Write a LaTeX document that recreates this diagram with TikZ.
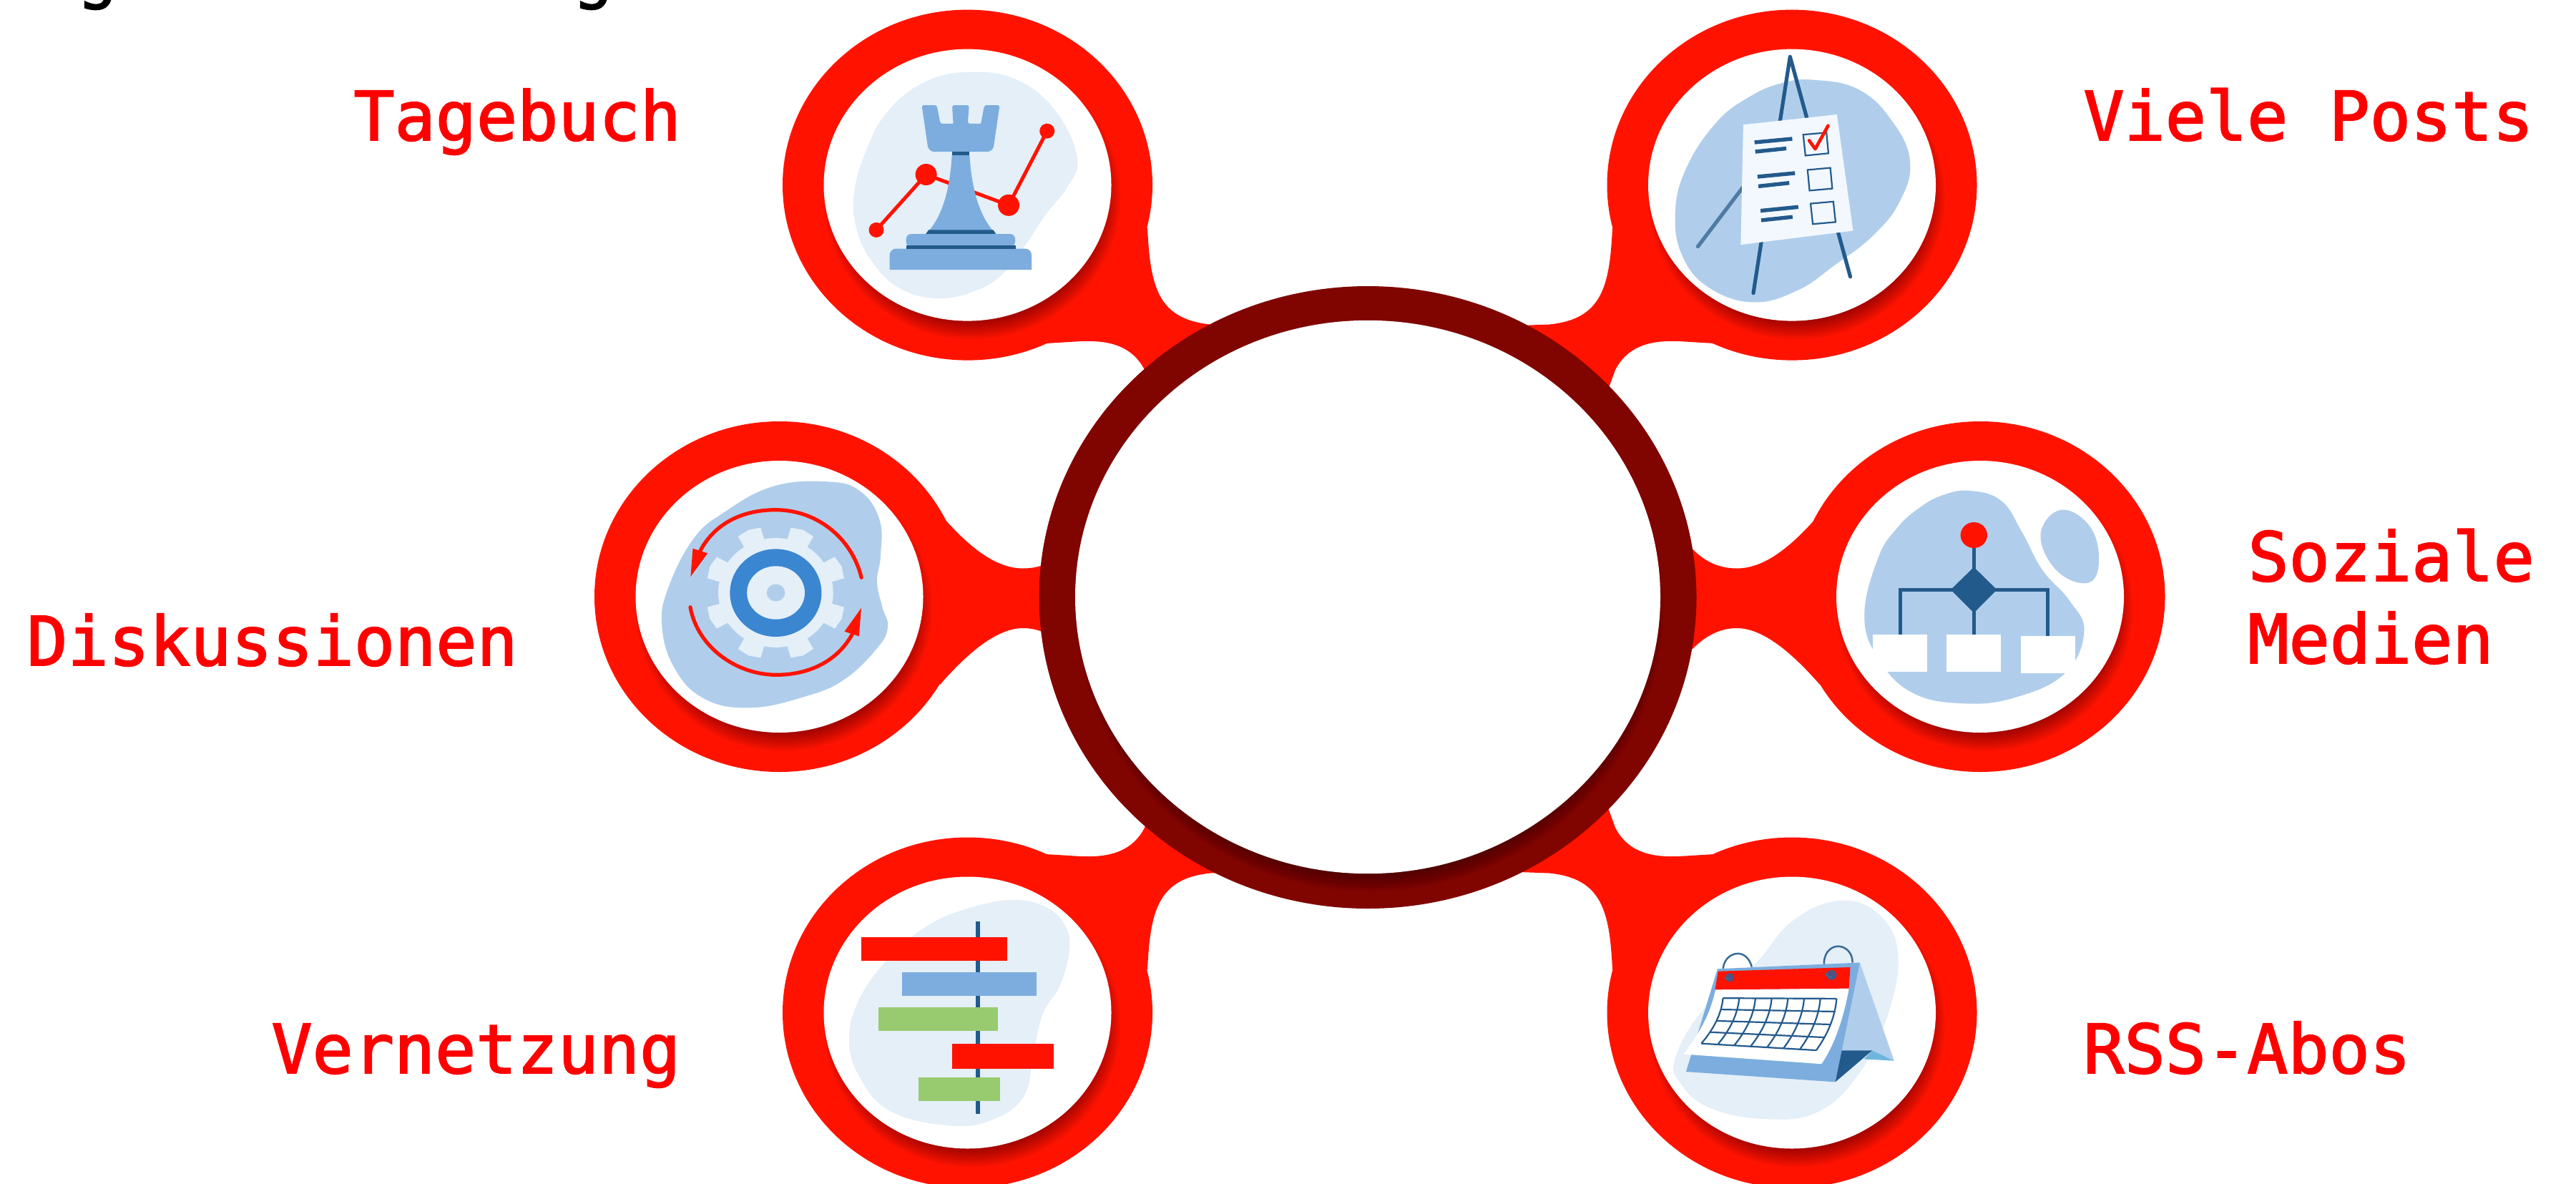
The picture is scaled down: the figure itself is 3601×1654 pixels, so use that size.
\documentclass[tikz,border=0pt]{standalone}
\usepackage{fontspec}
\newfontfamily\labfont{DejaVu Sans Mono}[FakeBold=2]
\newfontfamily\ttlfont{DejaVu Sans Mono}[FakeBold=2]
\definecolor{ringred}{HTML}{FF1300}
\definecolor{labred}{HTML}{FF0000}
\definecolor{hubred}{HTML}{800500}
\definecolor{blobl}{HTML}{E4EFF8}
\definecolor{blobm}{HTML}{B0CEEB}
\definecolor{midblue}{HTML}{7CADDE}
\definecolor{darkblue}{HTML}{235A8C}
\definecolor{vivid}{HTML}{3A86D0}
\definecolor{ganttgreen}{HTML}{98CB70}
\definecolor{cyanb}{HTML}{6FB5DE}
\definecolor{paperc}{HTML}{F2F8FE}
\definecolor{holec}{HTML}{4D5283}
\tikzset{
  lab/.style={anchor=base west,inner sep=0pt,text=labred,font=\labfont\fontsize{47.5}{57.5}\selectfont,align=left},
  ttl/.style={anchor=base west,inner sep=0pt,text=black,font=\ttlfont\fontsize{47.5}{57.5}\selectfont},
  smoothblob/.style={smooth cycle,tension=.7},
  px5/.style={line width=2.6pt},
  thinl/.style={line width=1.1pt,draw=darkblue},
}
% drop shadow under a white disc: offsets #5,#6
\newcommand{\softshadow}[6]{%
  \foreach \k in {0,...,13}{%
    \fill[black,opacity=.026] (#1+#5,#2+#6) ellipse [x radius=#3-14+1.85*\k, y radius=#4-14+1.85*\k];
  }%
}
\newcommand{\lobe}[2]{%
  \fill[ringred] (#1,#2) ellipse [x radius=258.5, y radius=245];
}
\newcommand{\disc}[2]{%
  \softshadow{#1}{#2}{198}{190}{6}{16}
  \fill[white] (#1,#2) ellipse [x radius=201, y radius=190];
}
\newcommand{\cornerconn}{%
  \fill[ringred] (1604,319) .. controls (1608,400) and (1618,446) .. (1692,453.5) -- (1760,456) -- (1780,560) -- (1612,550)
    -- (1600,517) .. controls (1580,478) and (1540,476) .. (1511,477) -- (1462,480) -- (1352,300) -- cycle;
}
\newcommand{\sideconn}{%
  \fill[ringred] (1320,725) .. controls (1360,770) and (1395,794.5) .. (1430,794.5)
    .. controls (1455,794.5) and (1475,785) .. (1492,767.5) -- (1560,767.5) -- (1560,907) -- (1492,907)
    .. controls (1475,890) and (1455,878) .. (1430,878) .. controls (1395,878) and (1355,910) .. (1314,957)
    -- (1200,834) -- cycle;
}
\begin{document}
\begin{tikzpicture}[x=0.5pt,y=-0.5pt]
\useasboundingbox (0,0) rectangle (3601,1654);
\fill[white] (0,0) rectangle (3601,1654);
% clipped title descenders
\node[ttl] (ttlA) at (107,-7) {g};
\node[ttl] (ttlB) at (800,-7) {g};

% connectors
\cornerconn
\begin{scope}[shift={(3858,0)},xscale=-1]\cornerconn\end{scope}
\begin{scope}[shift={(0,1674)},yscale=-1]\cornerconn\end{scope}
\begin{scope}[shift={(3858,1674)},xscale=-1,yscale=-1]\cornerconn\end{scope}
\sideconn
\begin{scope}[shift={(3858,0)},xscale=-1]\sideconn\end{scope}

% outer lobes
\lobe{1352.5}{258.6}
\lobe{2505}{258.6}
\lobe{1089.5}{834}
\lobe{2768}{834}
\lobe{1352.5}{1415.5}
\lobe{2505}{1415.5}

% white discs with shadows
\disc{1352.5}{258.6}
\disc{2505}{258.6}
\disc{1089.5}{834}
\disc{2768}{834}
\disc{1352.5}{1415.5}
\disc{2505}{1415.5}

% ---- icon: rook and chart
\fill[blobl] plot[smoothblob] coordinates {(1358.5,100.7) (1423.6,112.5) (1477.1,157.1) (1505.8,221.4) (1492.5,260.7) (1461.8,300) (1433.1,342.9) (1404.4,380.4) (1366.2,405.4) (1312.6,417.1) (1259,403.6) (1220.7,367.9) (1197.8,321.4) (1193.9,271.4) (1209.3,214.3) (1239.9,157.1) (1293.4,114.3)};
\draw[ringred,line width=2.5pt] (1225,321.4) -- (1294.6,244) -- (1410,286.8) -- (1463.7,183.2);
\fill[ringred] (1225,321.4) circle [radius=10.5];
\fill[ringred] (1294.6,244) circle [radius=15];
\fill[ringred] (1410,286.8) circle [radius=15];
\fill[ringred] (1463.7,183.2) circle [radius=10.5];
\fill[midblue,rounded corners=1.5pt] (1288.5,147) -- (1309.5,147) -- (1314.5,172.9) [sharp corners] -- (1332.5,172.9) [rounded corners=1.5pt] -- (1331,147) -- (1354.7,147) -- (1352.8,172.9) [sharp corners] -- (1371.1,172.9) [rounded corners=1.5pt] -- (1376.1,147) -- (1397.5,147) [rounded corners=4pt] -- (1388,212.1) -- (1298,212.1) [rounded corners=1.5pt] -- cycle;
\fill[midblue] (1330.6,217) .. controls (1328,265) and (1317,305) .. (1294.2,327) -- (1392.2,327) .. controls (1370,305) and (1358,265) .. (1355.4,217) -- cycle;
\fill[darkblue] (1330.6,212.1) rectangle (1355.4,217.1);
\fill[darkblue] (1298,321.4) -- (1388.4,321.4) -- (1392.2,327) -- (1294.2,327) -- cycle;
\fill[midblue,rounded corners=3.5pt] (1266.7,345) -- (1266.7,327) -- (1419,327) -- (1419,345) -- cycle;
\fill[midblue,rounded corners=4.5pt] (1243.7,377) [sharp corners] -- (1243.7,365) [rounded corners=4.5pt] -- (1243.7,347.5) -- (1442,347.5) [sharp corners] -- (1442,377) -- cycle;
\fill[darkblue] (1266.7,343) rectangle (1419.5,347.8);

% ---- icon: easel
\fill[blobm] plot[smoothblob] coordinates {(2536.8,111.8) (2598,125) (2644,167.9) (2670,225) (2655.4,282.1) (2617.1,330.4) (2563.6,371.4) (2513.8,405.4) (2452.6,422.5) (2391.4,403.6) (2353.1,360.7) (2341.6,300) (2356.9,235.7) (2399,171.4) (2444.9,135.7) (2490.9,116.1)};
\draw[darkblue,px5,line cap=round,line join=round] (2451,409.6) -- (2502.3,79.3) -- (2586.5,386.8);
\draw[color=darkblue!80!white,px5,line cap=round] (2373.4,344.6) -- (2440,257);
\fill[paperc] (2436.9,174.3) -- (2567.8,160) -- (2590.4,322.5) -- (2433.4,342.1) -- cycle;
\foreach \a/\b/\c/\d in {2452.6/199/2505.4/194, 2453.7/212/2497/207.5, 2456.8/247/2509.2/242, 2458/260.4/2501.2/255.7, 2461/294.6/2513.8/289.3, 2462/307.9/2505.8/303.2}{
  \draw[darkblue,line width=2.7pt] (\a,\b) -- (\c,\d);
}
\draw[thinl] (2520.7,188.2) -- (2553.2,185.4) -- (2555.9,214.3) -- (2523.8,217.5) -- cycle;
\draw[thinl] (2526.8,237.5) -- (2558.6,234.6) -- (2561.3,263.6) -- (2529.5,266.4) -- cycle;
\draw[thinl] (2531,284.6) -- (2562.8,281.8) -- (2565.9,310.4) -- (2534.1,313.2) -- cycle;
\draw[ringred,line width=2.3pt,line cap=round,line join=round] (2529,196.4) -- (2537.5,208.2) -- (2555.5,175.7);

% ---- icon: gear
\fill[blobm] plot[smoothblob] coordinates {(1156.8,673.3) (1202.7,686.7) (1229.5,726.7) (1231,776.7) (1226,813.3) (1233.3,848.3) (1241,876.7) (1225.6,906.7) (1180,950) (1126.2,973.3) (1049.6,989.3) (984.6,976.7) (942.5,933.3) (925.2,873.3) (934.8,820) (969.3,753.3) (1011.4,716.7) (1080.2,680)};
\begin{scope}[shift={(1084.4,828.5)},xscale=1.03,yscale=.98]
  \fill[blobl] (0,0) circle [radius=78];
  \foreach \a in {22.5,67.5,...,337.5}{
    \fill[blobl] (\a-11:76) -- (\a-10:95) -- (\a:97) -- (\a+10:95) -- (\a+11:76) -- cycle;
  }
\end{scope}
\fill[vivid] (1084.4,828.7) ellipse [x radius=64, y radius=61.3];
\fill[blobl] (1084.6,828.5) ellipse [x radius=40.4, y radius=37.2];
\fill[blobm] (1084.6,828.5) ellipse [x radius=12.8, y radius=12];
\draw[ringred,px5,line cap=round] (1204.2,807.3) .. controls (1190,750) and (1140,712.7) .. (1084.4,712.7) .. controls (1040,712.7) and (1000,730) .. (978.8,770);
\fill[ringred] (968.5,766.7) -- (989.2,773.3) -- (965.4,806) -- cycle;
\draw[ringred,px5,line cap=round] (965,848.7) .. controls (975,905) and (1030,943.3) .. (1085.2,943.3) .. controls (1130,943.3) and (1170,925) .. (1191.2,886.7);
\fill[ringred] (1180.5,882.7) -- (1200.8,889.3) -- (1203.9,850) -- cycle;

% ---- icon: org chart
\fill[blobm] plot[smoothblob] coordinates {(2754.5,686) (2797.6,700) (2826.3,743.3) (2855,796.7) (2893.3,840) (2913.4,883.3) (2886,941.7) (2816.7,975) (2745,983.3) (2673.2,968.3) (2625.4,920) (2606.2,860) (2625.4,780) (2652,738) (2682.8,710) (2716,692)};
\fill[blobm] plot[smoothblob] coordinates {(2881.3,712.7) (2922,736.7) (2934,786.7) (2917.2,815) (2874.2,796.7) (2852.6,746.7)};
\draw[darkblue,px5] (2759.3,748) -- (2759.3,890);
\draw[darkblue,px5] (2656.5,890) -- (2656.5,824.3) -- (2862.2,824.3) -- (2862.2,892);
\fill[darkblue] (2759.3,792.7) -- (2791.4,824.3) -- (2759.3,856.7) -- (2726.8,824.3) -- cycle;
\fill[ringred] (2759.3,748) ellipse [x radius=18.7, y radius=18];
\fill[white] (2618.2,886.7) rectangle (2694.3,939);
\fill[white] (2720.6,886.7) rectangle (2797.1,939);
\fill[white] (2824.9,889) rectangle (2901,941);

% ---- icon: gantt
\fill[blobl] plot[smoothblob] coordinates {(1419.7,1258) (1465.7,1269.9) (1490.5,1297) (1494.4,1331.2) (1481,1378.9) (1458,1416.3) (1444.6,1470.8) (1431.2,1532) (1385.3,1566) (1324,1573) (1243.7,1552.6) (1201.6,1505) (1187,1453.8) (1201.6,1395.9) (1243.7,1338) (1297.3,1293.7) (1358.5,1268.2)};
\fill[darkblue] (1364.2,1288.3) rectangle (1370,1556.6);
\fill[ringred] (1204.3,1310) rectangle (1407.5,1343.1);
\fill[midblue] (1260.5,1359) rectangle (1448.8,1392.1);
\fill[ganttgreen] (1228.4,1408.1) rectangle (1394.5,1441.2);
\fill[ringred] (1330.6,1458.9) rectangle (1472.6,1494);
\fill[ganttgreen] (1284.3,1505.9) rectangle (1397.5,1538.9);

% ---- icon: calendar
\fill[blobl] plot[smoothblob] coordinates {(2573.1,1259) (2628.6,1280) (2653.5,1338) (2636.3,1426.5) (2598,1501.5) (2544.4,1552.6) (2475.5,1564.5) (2391.4,1549.2) (2347.3,1511.7) (2342.4,1477.6) (2379.9,1412.9) (2452.6,1348.2) (2506.2,1286.9)};
\fill[blobm] (2599.9,1345.5) -- (2647.8,1482.7) -- (2617.1,1468.4) -- (2573.1,1468.4) -- cycle;
\fill[cyanb] (2617.1,1468.4) -- (2647.8,1482.7) -- (2605.7,1480.4) -- cycle;
\fill[darkblue] (2573.1,1468.4) -- (2617.1,1468.4) -- (2565.5,1512.4) -- cycle;
\draw[darkblue!90!white,line width=1.25pt] (2448.8,1351.6) .. controls (2446,1340) and (2438,1332.9) .. (2429.6,1332.9) .. controls (2414,1332.9) and (2404,1350) .. (2411,1366);
\draw[darkblue!90!white,line width=1.25pt] (2589.6,1345.5) .. controls (2590,1332) and (2580,1322.7) .. (2569.3,1322.7) .. controls (2555,1322.7) and (2545,1340) .. (2552,1360);
\fill[midblue] (2400.9,1354.3) -- (2599.9,1345.5) -- (2565.5,1512.4) -- (2356.9,1498) -- cycle;
\fill[white] (2398.2,1383) -- (2584.6,1381.6) .. controls (2578,1420) and (2565,1460) .. (2546.3,1487.2) -- (2353.1,1473.5) .. controls (2375,1445) and (2390,1420) .. cycle;
\fill[ringred] (2401.7,1357.7) -- (2586.5,1352) -- (2584.6,1381.6) -- (2397.5,1383.3) -- cycle;
\foreach \u in {0,...,7}{
  \pgfmathsetmacro\uu{\u/7}
  \draw[thinl] plot[domain=0:1,samples=9,variable=\t] ({(2408.6+158.8*\uu)+(-30.3+1.9*\uu)*(.8*\t*\t+.2*\t)},{(1395.2+.7*\uu)+(63.4+8.8*\uu)*\t});
}
\foreach \v in {0,1,2,3,4}{
  \pgfmathsetmacro\vv{\v/4}
  \draw[thinl] plot[domain=0:1,samples=3,variable=\t] ({(2408.6+158.8*\t)+(-30.3+1.9*\t)*(.8*\vv*\vv+.2*\vv)},{(1395.2+.7*\t)+(63.4+8.8*\t)*\vv});
}
\fill[holec] (2418.1,1366.3) circle [radius=6];
\fill[holec] (2560.5,1362.8) circle [radius=7];
\draw[darkblue!90!white,line width=1.25pt] (2411,1366) .. controls (2412,1368) and (2414,1369) .. (2418.1,1368);
\draw[darkblue!90!white,line width=1.25pt] (2552,1360) .. controls (2553,1364) and (2556,1366) .. (2562,1366);

% ---- hub
\fill[hubred] (1912,835) ellipse [x radius=459.5, y radius=435];
\softshadow{1912}{834.5}{401}{386.7}{3}{15}
\fill[white] (1912,834.5) ellipse [x radius=409, y radius=386.7];

% labels
\node[lab] (labA) at (494,196) {Tagebuch};
\node[lab] (labB) at (2912,196) {Viele Posts};
\node[lab] (labC) at (37,930) {Diskussionen};
\node[lab] (labD) at (3142,927) {Soziale\\Medien};
\node[lab] (labE) at (379,1500) {Vernetzung};
\node[lab] (labF) at (2912,1500) {RSS-Abos};
\end{tikzpicture}
\end{document}
